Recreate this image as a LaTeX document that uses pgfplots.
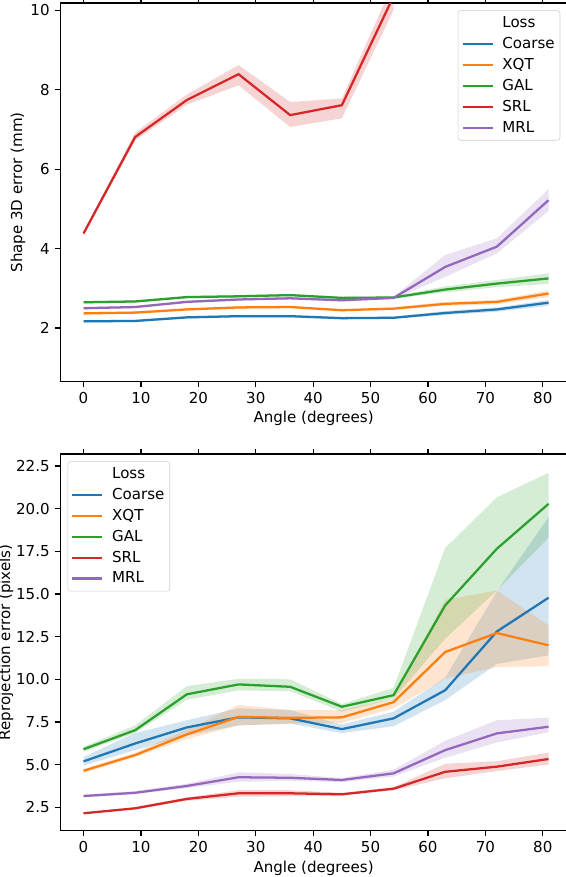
\documentclass[border=0pt]{standalone}
\usepackage{pgfplots}
\pgfplotsset{compat=1.18}
\usepackage{pgfplotstable}
\usepgfplotslibrary{fillbetween}
\usepackage{fontspec}
\setmainfont{DejaVu Sans}

\definecolor{c0}{HTML}{1F77B4}
\definecolor{c1}{HTML}{FF7F0E}
\definecolor{c2}{HTML}{2CA02C}
\definecolor{c3}{HTML}{D62728}
\definecolor{c4}{HTML}{9467BD}

% shape error (mm): mean, lower and upper edge of the band
\pgfplotstableread{
x  co   coL  coH  xq   xqL  xqH  ga   gaL  gaH  mr   mrL  mrH
0  2.17 2.14 2.20 2.37 2.34 2.40 2.65 2.62 2.68 2.50 2.47 2.53
9  2.18 2.15 2.21 2.39 2.36 2.42 2.67 2.64 2.70 2.53 2.50 2.56
18 2.27 2.24 2.30 2.47 2.44 2.50 2.78 2.75 2.81 2.66 2.63 2.69
27 2.30 2.27 2.33 2.52 2.49 2.55 2.80 2.77 2.83 2.72 2.69 2.75
36 2.30 2.27 2.33 2.53 2.50 2.56 2.83 2.80 2.86 2.75 2.72 2.78
45 2.25 2.22 2.28 2.45 2.42 2.48 2.76 2.73 2.79 2.70 2.67 2.73
54 2.26 2.23 2.29 2.49 2.46 2.52 2.77 2.74 2.80 2.76 2.73 2.79
63 2.38 2.33 2.43 2.61 2.56 2.66 2.97 2.90 3.05 3.54 3.29 3.84
72 2.47 2.41 2.52 2.66 2.60 2.71 3.12 3.03 3.21 4.05 3.88 4.26
81 2.64 2.56 2.71 2.87 2.78 2.95 3.25 3.11 3.38 5.22 4.95 5.50
}\shapetab

% SRL leaves the top of the shape plot after 54
\pgfplotstableread{
x  sr    srL   srH
0  4.38  4.34  4.42
9  6.81  6.72  6.92
18 7.74  7.62  7.88
27 8.39  8.11  8.62
36 7.36  7.06  7.69
45 7.61  7.28  7.78
54 10.35 10.00 10.70
}\shapesrl

% reprojection error (pixels)
\pgfplotstableread{
x  co    coL   coH   xq    xqL   xqH   ga    gaL   gaH   sr   srL  srH  mr   mrL  mrH
0  5.19  4.95  5.45  4.64  4.50  4.75  5.90  5.75  6.05  2.15 2.10 2.20 3.16 3.08 3.24
9  6.24  5.85  6.85  5.56  5.45  5.70  7.02  6.85  7.30  2.44 2.38 2.50 3.35 3.28 3.45
18 7.18  6.70  7.60  6.77  6.50  7.05  9.12  8.80  9.60  2.99 2.88 3.08 3.75 3.62 3.88
27 7.77  7.30  8.30  7.80  7.30  8.50  9.70  9.35  10.03 3.32 3.12 3.50 4.26 4.00 4.55
36 7.71  7.40  8.20  7.74  7.40  8.20  9.56  9.30  10.00 3.32 3.15 3.50 4.23 4.05 4.45
45 7.08  6.85  7.35  7.77  7.45  8.20  8.39  8.10  8.55  3.26 3.18 3.35 4.10 3.98 4.22
54 7.71  7.25  8.10  8.66  8.30  8.85  9.07  8.85  9.50  3.59 3.50 3.68 4.49 4.30 4.70
63 9.36  8.78  10.10 11.60 10.04 14.66 14.33 12.38 17.70 4.58 4.20 5.05 5.85 5.40 6.40
72 12.80 10.90 15.15 12.71 10.72 15.20 17.65 15.20 20.66 4.88 4.62 5.20 6.83 6.30 7.60
81 14.78 11.40 19.50 11.99 10.76 13.16 20.28 18.30 22.10 5.33 5.00 5.70 7.22 6.90 7.75
}\projtab

% #1 table, #2 lower column, #3 upper column, #4 colour
\newcommand{\band}[4]{%
  \addplot[draw=none, forget plot, name path=#2] table[x=x, y=#2] {#1};
  \addplot[draw=none, forget plot, name path=#3] table[x=x, y=#3] {#1};
  \addplot[fill=#4, fill opacity=0.2, draw=none, forget plot] fill between[of=#2 and #3];
}
\newcommand{\meanline}[3]{%
  \addplot[#3, line width=1.7pt] table[x=x, y=#2] {#1};
}

\pgfplotsset{
  lossax/.style={
    scale only axis, width=380pt,
    xmin=-4.05, xmax=84.2, xtick={0,10,...,80},
    tick align=outside, major tick length=4pt,
    tick style={black, line width=0.9pt},
    axis line style={line width=0.9pt},
    /pgf/number format/assume math mode=true,
    xlabel={Angle (degrees)},
    every axis y label/.style={rotate=90, anchor=center},
    legend cell align=left,
    legend image code/.code={\draw[#1] (0pt,0pt) -- (22.5pt,0pt);},
    legend style={draw=black!20, rounded corners=2pt, fill=white, fill opacity=0.8,
      text opacity=1, inner xsep=2.5pt, inner ysep=3pt, row sep=2.6pt,
      column sep=5pt, nodes={inner sep=1.5pt}},
  }
}

\begin{document}
\fontsize{11.3}{13.6}\selectfont
\begin{tikzpicture}
\begin{axis}[lossax,
    at={(45.2pt,-286.3pt)}, anchor=south west,
    height=284pt,
    ymin=0.65, ymax=10.18, ytick={2,4,6,8,10},
    ylabel={Shape 3D error (mm)},
    ylabel style={at={(axis description cs:-0.0835,0.5)}},
    xlabel style={at={(axis description cs:0.5,-0.096)}, anchor=center},
    legend style={at={(1,1)}, anchor=north east, xshift=-5pt, yshift=-5.5pt},
]
\band{\shapetab}{coL}{coH}{c0}
\band{\shapetab}{xqL}{xqH}{c1}
\band{\shapetab}{gaL}{gaH}{c2}
\band{\shapesrl}{srL}{srH}{c3}
\band{\shapetab}{mrL}{mrH}{c4}
\addlegendimage{empty legend}
\meanline{\shapetab}{co}{c0}
\meanline{\shapetab}{xq}{c1}
\meanline{\shapetab}{ga}{c2}
\meanline{\shapesrl}{sr}{c3}
\meanline{\shapetab}{mr}{c4}
\legend{Loss, Coarse, XQT, GAL, SRL, MRL}
\end{axis}

\begin{axis}[lossax,
    at={(45.2pt,-623.0pt)}, anchor=south west,
    height=282.5pt,
    ymin=1.13, ymax=23.2, ytick={2.5,5,...,22.5},
    yticklabel style={/pgf/number format/.cd, fixed, fixed zerofill, precision=1},
    ylabel={Reprojection error (pixels)},
    ylabel style={at={(axis description cs:-0.107,0.5)}},
    xlabel style={at={(axis description cs:0.5,-0.099)}, anchor=center},
    legend style={at={(0,1)}, anchor=north west, xshift=5.5pt, yshift=-5.5pt},
]
\band{\projtab}{coL}{coH}{c0}
\band{\projtab}{xqL}{xqH}{c1}
\band{\projtab}{gaL}{gaH}{c2}
\band{\projtab}{srL}{srH}{c3}
\band{\projtab}{mrL}{mrH}{c4}
\addlegendimage{empty legend}
\meanline{\projtab}{co}{c0}
\meanline{\projtab}{xq}{c1}
\meanline{\projtab}{ga}{c2}
\meanline{\projtab}{sr}{c3}
\meanline{\projtab}{mr}{c4}
\legend{Loss, Coarse, XQT, GAL, SRL, MRL}
\end{axis}

\pgfresetboundingbox
\path[use as bounding box] (0pt,0pt) rectangle (424.5pt,-657.75pt);
\end{tikzpicture}
\end{document}
